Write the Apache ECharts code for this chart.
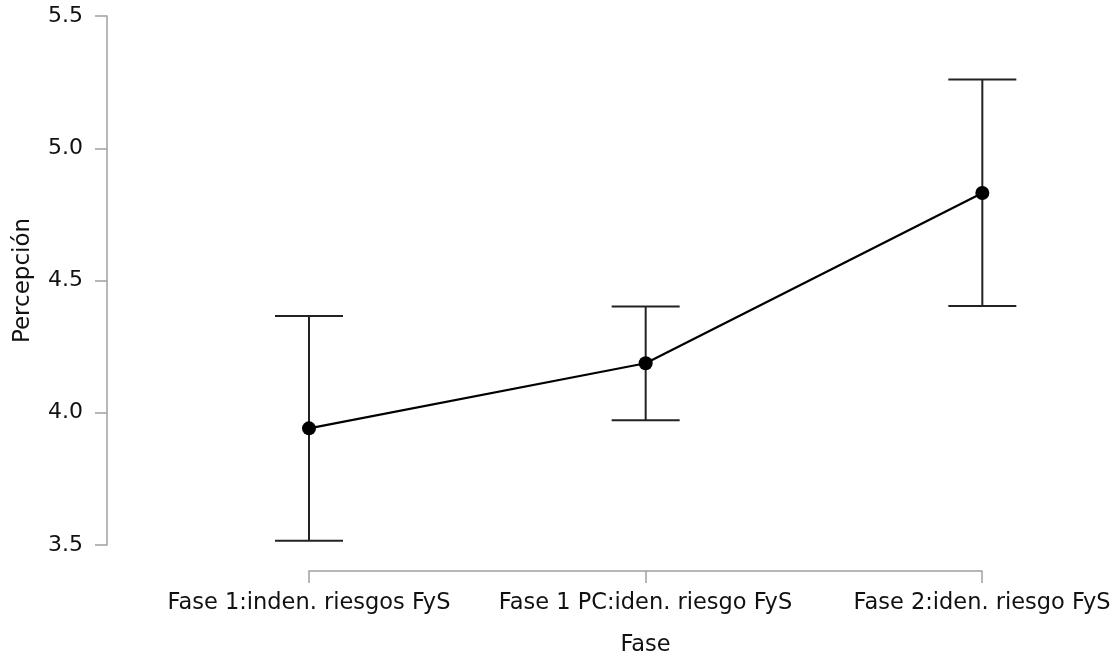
<!DOCTYPE html>
<html>
<head>
<meta charset="utf-8">
<script src="https://cdn.jsdelivr.net/npm/echarts@6/dist/echarts.min.js"></script>
<style>html,body{margin:0;padding:0;background:#fff}#c{width:1117px;height:657px}</style>
</head>
<body>
<div id="c"></div>
<script>
const categories = ['Fase 1:inden. riesgos FyS', 'Fase 1 PC:iden. riesgo FyS', 'Fase 2:iden. riesgo FyS'];
const means = [3.941, 4.187, 4.831];
const lower = [3.516, 3.972, 4.404];
const upper = [4.366, 4.402, 5.260];
const yTicks = [3.5, 4.0, 4.5, 5.0, 5.5];

const FONT = 'DejaVu Sans';
const chart = echarts.init(document.getElementById('c'));
const pts = means.map((m, i) => [i, m]);
const errs = means.map((m, i) => [i, lower[i], upper[i]]);

chart.setOption({
  animation: false,
  textStyle: { fontFamily: FONT },
  grid: [
    { left: 107, right: 0, top: 16, bottom: 112, outerBoundsMode: 'none', containLabel: false },
    { left: 309, right: 135, top: 560, bottom: 86, outerBoundsMode: 'none', containLabel: false }
  ],
  xAxis: [
    { type: 'value', gridIndex: 0, min: -0.6, max: 2.4, show: false },
    {
      type: 'category', gridIndex: 1, data: categories, boundaryGap: false,
      axisLine: { lineStyle: { color: '#a0a0a0', width: 1.5 } },
      axisTick: { interval: 0, length: 12, lineStyle: { color: '#a0a0a0', width: 1.5 } },
      axisLabel: { interval: 0, hideOverlap: false, color: '#111', fontSize: 22.5, margin: 21, fontFamily: FONT },
      name: 'Fase', nameLocation: 'middle', nameGap: 63,
      nameTextStyle: { color: '#111', fontSize: 22.5, fontFamily: FONT }
    }
  ],
  yAxis: [
    {
      type: 'value', gridIndex: 0, min: yTicks[0], max: yTicks[yTicks.length - 1], interval: 0.5,
      position: 'left',
      axisLine: { show: true, onZero: false, lineStyle: { color: '#a0a0a0', width: 1.5 } },
      axisTick: { show: true, length: 12, lineStyle: { color: '#a0a0a0', width: 1.5 } },
      splitLine: { show: false },
      axisLabel: { color: '#111', fontSize: 22, margin: 24, fontFamily: FONT, formatter: v => v.toFixed(1) },
      name: 'Percepción', nameLocation: 'middle', nameRotate: 90, nameGap: 72,
      nameTextStyle: { color: '#111', fontSize: 23, fontFamily: FONT }
    },
    { type: 'value', gridIndex: 1, show: false }
  ],
  series: [
    {
      type: 'custom', xAxisIndex: 0, yAxisIndex: 0, data: errs, z: 2,
      renderItem: function (params, api) {
        const x = api.value(0);
        const lo = api.coord([x, api.value(1)]);
        const hi = api.coord([x, api.value(2)]);
        const hw = 34;
        const style = { stroke: '#222', lineWidth: 2 };
        return {
          type: 'group',
          children: [
            { type: 'line', shape: { x1: lo[0], y1: lo[1], x2: hi[0], y2: hi[1] }, style },
            { type: 'line', shape: { x1: lo[0] - hw, y1: lo[1], x2: lo[0] + hw, y2: lo[1] }, style },
            { type: 'line', shape: { x1: hi[0] - hw, y1: hi[1], x2: hi[0] + hw, y2: hi[1] }, style }
          ]
        };
      }
    },
    {
      type: 'line', xAxisIndex: 0, yAxisIndex: 0, data: pts, z: 3,
      symbol: 'circle', symbolSize: 14,
      lineStyle: { color: '#000', width: 2.2 },
      itemStyle: { color: '#000' }
    }
  ]
});
</script>
</body>
</html>
